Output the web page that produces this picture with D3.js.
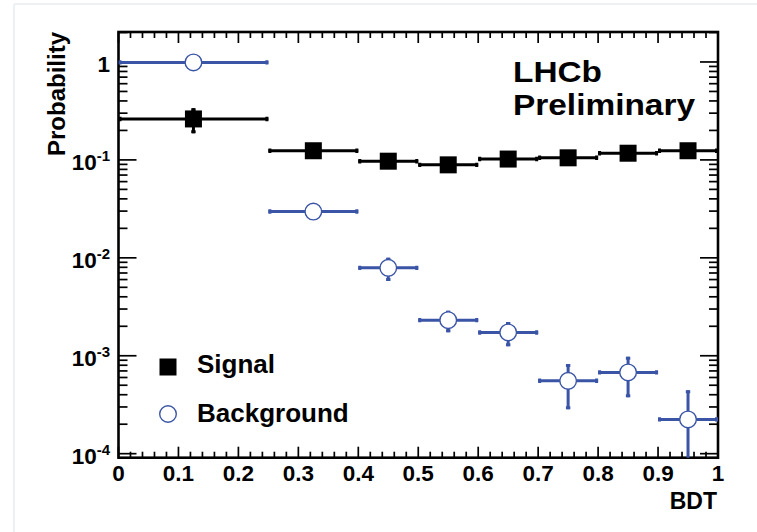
<!DOCTYPE html>
<html lang="en">
<head>
    <meta charset="UTF-8">
    <title>BDT Probability</title>
    <style>
        body { margin: 0; background: #fff; }
        svg { display: block; }
        text { font-family: "Liberation Sans", Arial, sans-serif; font-weight: bold; fill: #000; }
    </style>
</head>
<body>
    <svg id="chart" width="757" height="532"></svg>

    <script src="https://d3js.org/d3.v7.min.js"></script>
    <script>
        // bins in BDT
        const binLo = [0, 0.25, 0.4, 0.5, 0.6, 0.7, 0.8, 0.9];
        const binHi = [0.25, 0.4, 0.5, 0.6, 0.7, 0.8, 0.9, 1.0];

        // signal (black squares)
        const signalVal = [0.262, 0.124, 0.097, 0.089, 0.102, 0.105, 0.117, 0.124];
        const signalErr = [0.075, 0.006, 0.005, 0.005, 0.005, 0.005, 0.006, 0.006];

        // background (open blue circles)
        const bkgVal = [0.99, 0.0297, 0.0079, 0.00231, 0.00173, 0.000555, 0.000676, 0.000224];
        const bkgErr = [0.004, 0.0012, 0.0021, 0.00057, 0.00048, 0.00027, 0.00030, 0.00022];

        const xTicks = [0, 0.1, 0.2, 0.3, 0.4, 0.5, 0.6, 0.7, 0.8, 0.9, 1];
        const xTickLabels = ["0", "0.1", "0.2", "0.3", "0.4", "0.5", "0.6", "0.7", "0.8", "0.9", "1"];
        const yDecades = [0, -1, -2, -3, -4];

        const blue = '#3b55a6';
        const frame = { left: 118.5, right: 718, top: 32, bottom: 457.7 };

        const svg = d3.select('#chart');

        // faint page border
        svg.append('line').attr('x1', 14).attr('x2', 757).attr('y1', 4).attr('y2', 4)
            .attr('stroke', '#edf1f4').attr('stroke-width', 2);
        svg.append('line').attr('x1', 14).attr('x2', 14).attr('y1', 4).attr('y2', 532)
            .attr('stroke', '#edf1f4').attr('stroke-width', 2);

        const x = d3.scaleLinear().domain([0, 1]).range([frame.left, frame.right]);
        const y = d3.scaleLog().domain([Math.pow(10, -4.041), Math.pow(10, 0.306)])
            .range([frame.bottom, frame.top]);

        // ticks
        const g = svg.append('g').attr('stroke', '#000').attr('stroke-width', 1.7);
        const xMinor = d3.range(0, 51).map(i => i / 50);
        xMinor.forEach((v, i) => {
            const len = (i % 5 === 0) ? 11 : 6;
            g.append('line').attr('x1', x(v)).attr('x2', x(v))
                .attr('y1', frame.bottom).attr('y2', frame.bottom - len);
            g.append('line').attr('x1', x(v)).attr('x2', x(v))
                .attr('y1', frame.top).attr('y2', frame.top + len);
        });
        const [yMin, yMax] = y.domain();
        for (let e = -5; e <= 0; e++) {
            for (let m = 1; m <= 9; m++) {
                const v = m * Math.pow(10, e);
                if (v < yMin || v > yMax) continue;
                const len = m === 1 ? 18 : 9;
                g.append('line').attr('x1', frame.left).attr('x2', frame.left + len)
                    .attr('y1', y(v)).attr('y2', y(v));
                g.append('line').attr('x1', frame.right).attr('x2', frame.right - len)
                    .attr('y1', y(v)).attr('y2', y(v));
            }
        }

        // frame
        svg.append('rect')
            .attr('x', frame.left).attr('y', frame.top)
            .attr('width', frame.right - frame.left).attr('height', frame.bottom - frame.top)
            .attr('fill', 'none').attr('stroke', '#000').attr('stroke-width', 2.6);

        // x tick labels
        svg.selectAll('.xlab').data(xTicks).enter().append('text')
            .attr('x', d => x(d)).attr('y', 481)
            .attr('text-anchor', 'middle').attr('font-size', 22.5)
            .text((d, i) => xTickLabels[i]);

        // y tick labels
        yDecades.forEach(e => {
            const t = svg.append('text').attr('x', 110).attr('y', y(Math.pow(10, e)) + 10)
                .attr('text-anchor', 'end').attr('font-size', 22.5);
            if (e === 0) {
                t.text('1');
            } else {
                t.append('tspan').text('10');
                t.append('tspan').attr('dy', -9).attr('font-size', 15).text(String(e));
            }
        });

        // axis titles
        svg.append('text').attr('transform', 'translate(65,32) rotate(-90)')
            .attr('text-anchor', 'end').attr('font-size', 24).text('Probability');
        svg.append('text').attr('x', 717).attr('y', 509)
            .attr('text-anchor', 'end').attr('font-size', 23).text('BDT');

        // LHCb label
        svg.append('text').attr('x', 513).attr('y', 82).attr('font-size', 30)
            .attr('textLength', 89).attr('lengthAdjust', 'spacingAndGlyphs').text('LHCb');
        svg.append('text').attr('x', 513).attr('y', 115).attr('font-size', 30)
            .attr('textLength', 182).attr('lengthAdjust', 'spacingAndGlyphs').text('Preliminary');

        const plot = svg.append('g');
        const clipId = 'frameclip';
        svg.append('clipPath').attr('id', clipId).append('rect')
            .attr('x', frame.left).attr('y', frame.top)
            .attr('width', frame.right - frame.left).attr('height', frame.bottom - frame.top);
        plot.attr('clip-path', `url(#${clipId})`);

        function drawSeries(vals, errs, color, drawMarker) {
            const cap = 2.2;
            binLo.forEach((lo, i) => {
                const xc = (lo + binHi[i]) / 2;
                const yc = y(vals[i]);
                const lowV = Math.max(vals[i] - errs[i], yMin * 0.5);
                const eg = plot.append('g').attr('stroke', color).attr('stroke-width', 3);
                eg.append('line').attr('x1', x(lo)).attr('x2', x(binHi[i])).attr('y1', yc).attr('y2', yc);
                eg.append('line').attr('x1', x(xc)).attr('x2', x(xc))
                    .attr('y1', y(vals[i] + errs[i])).attr('y2', y(lowV));
                // end caps
                eg.append('line').attr('x1', x(lo) + 1.5).attr('x2', x(lo) + 1.5)
                    .attr('y1', yc - cap).attr('y2', yc + cap);
                eg.append('line').attr('x1', x(binHi[i]) - 1.5).attr('x2', x(binHi[i]) - 1.5)
                    .attr('y1', yc - cap).attr('y2', yc + cap);
                eg.append('line').attr('x1', x(xc) - cap).attr('x2', x(xc) + cap)
                    .attr('y1', y(vals[i] + errs[i]) + 1.5).attr('y2', y(vals[i] + errs[i]) + 1.5);
                eg.append('line').attr('x1', x(xc) - cap).attr('x2', x(xc) + cap)
                    .attr('y1', y(lowV) - 1.5).attr('y2', y(lowV) - 1.5);
                drawMarker(plot, x(xc), yc);
            });
        }

        const square = (sel, cx, cy) => sel.append('rect')
            .attr('x', cx - 8.5).attr('y', cy - 8.5).attr('width', 17).attr('height', 17)
            .attr('fill', '#000');
        const circle = (sel, cx, cy) => sel.append('circle')
            .attr('cx', cx).attr('cy', cy).attr('r', 8.3)
            .attr('fill', '#fff').attr('stroke', blue).attr('stroke-width', 1.4);

        drawSeries(bkgVal, bkgErr, blue, circle);
        drawSeries(signalVal, signalErr, '#000', square);

        // legend
        square(svg, 168, 367);
        svg.append('text').attr('x', 197).attr('y', 373).attr('font-size', 26).text('Signal');
        circle(svg, 168, 414);
        svg.append('text').attr('x', 197).attr('y', 422).attr('font-size', 26).text('Background');
    </script>
</body>
</html>
